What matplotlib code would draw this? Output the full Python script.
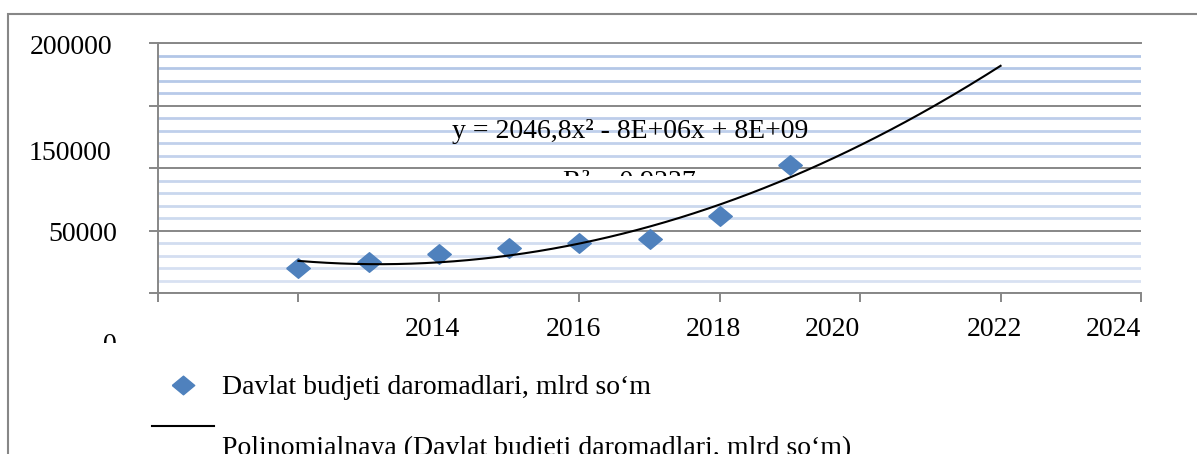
"""
Davlat budjeti daromadlari - scatter with polynomial trend line
Saves the chart as out.png
"""

import numpy as np
import matplotlib
matplotlib.use("Agg")
import matplotlib.pyplot as plt
from matplotlib.patches import Rectangle
from matplotlib.ticker import MultipleLocator
from matplotlib.transforms import ScaledTranslation, Bbox, TransformedBbox
from matplotlib.legend_handler import HandlerLine2D
from matplotlib.colors import to_rgb


# Data
YEARS = [2012, 2013, 2014, 2015, 2016, 2017, 2018, 2019]
REVENUE = [20000, 24800, 31200, 36000, 40000, 43200, 61600, 102400]
TREND_END = 2022

X_TICKS = [2010, 2012, 2014, 2016, 2018, 2020, 2022, 2024]
X_LABELS = ["", "", "2014", "2016", "2018", "2020", "2022", "2024"]
Y_TICKS = [0, 50000, 100000, 150000, 200000]
Y_LABELS = ["0", "50000", "", "150000", "200000"]

SERIES_NAME = "Davlat budjeti daromadlari, mlrd so‘m"
TREND_NAME = "Polinomialnaya (Davlat budjeti daromadlari, mlrd so‘m)"
EQUATION = "y = 2046,8x² - 8E+06x + 8E+09"
R_SQUARED = "R² = 0,9237"

W, H = 1197, 454
GRAY = "#878787"
BLUE = "#4f81bd"
DIAMOND = [(-1, 0), (0, 0.83), (1, 0), (0, -0.83), (-1, 0)]


def fx(px):
    return px / W


def fy(py):
    return 1 - py / H


def shift(label, dx_px, dy_px, fig):
    off = ScaledTranslation(dx_px / 100, -dy_px / 100, fig.dpi_scale_trans)
    label.set_transform(label.get_transform() + off)


def clip_rows(text, top_px, bottom_px, fig):
    box = Bbox.from_extents(0, fy(bottom_px), 1, fy(top_px))
    text.set_clip_box(TransformedBbox(box, fig.transFigure))
    text.set_clip_on(True)


class RaisedLine(HandlerLine2D):
    """Legend line drawn above the middle of its label, as in the original."""

    def __init__(self, raise_pt, **kw):
        super().__init__(**kw)
        self.raise_pt = raise_pt

    def create_artists(self, legend, orig_handle, xdescent, ydescent,
                       width, height, fontsize, trans):
        artists = super().create_artists(legend, orig_handle, xdescent,
                                         ydescent, width, height, fontsize,
                                         trans)
        for a in artists:
            a.set_ydata(np.asarray(a.get_ydata()) + self.raise_pt)
        return artists


def main() -> None:
    plt.rcParams["font.family"] = ["Liberation Serif", "DejaVu Serif"]
    plt.rcParams["font.size"] = 20

    fig = plt.figure(figsize=(W / 100, H / 100), dpi=100)
    ax = fig.add_axes([fx(158), fy(293), fx(1141) - fx(158), fy(43) - fy(293)])

    # Outer chart border (right and bottom run off the picture)
    fig.add_artist(Rectangle((fx(8), -0.2), 1.2, fy(14) + 0.2,
                             transform=fig.transFigure, fill=False,
                             edgecolor=GRAY, linewidth=1.5))

    # Series and polynomial trend
    pts, = ax.plot(YEARS, REVENUE, linestyle="none", marker=DIAMOND,
                   markersize=17, color=BLUE, zorder=3)
    t = np.array(YEARS) - YEARS[0]
    coeffs = np.polyfit(t, REVENUE, 2)
    tt = np.linspace(0, TREND_END - YEARS[0], 200)
    trend, = ax.plot(tt + YEARS[0], np.polyval(coeffs, tt), color="black",
                     linewidth=1.5, zorder=4)

    ax.set_xlim(X_TICKS[0], X_TICKS[-1])
    ax.set_ylim(Y_TICKS[0], Y_TICKS[-1])
    ax.set_xticks(X_TICKS, X_LABELS)
    ax.set_yticks(Y_TICKS, Y_LABELS)
    ax.yaxis.set_minor_locator(MultipleLocator(10000))

    for side in ["left", "bottom", "top"]:
        ax.spines[side].set_color(GRAY)
        ax.spines[side].set_linewidth(1.4)
    ax.spines["right"].set_visible(False)

    ax.tick_params(axis="both", which="major", direction="out", length=6.5,
                   width=1.4, color=GRAY, labelsize=20)
    ax.tick_params(axis="y", pad=25)
    ax.tick_params(axis="x", pad=11)
    ax.tick_params(axis="y", which="minor", length=0)

    ax.grid(axis="y", which="major", color=GRAY, linewidth=1.4)
    ax.grid(axis="y", which="minor", linewidth=2.0)
    ax.set_axisbelow(True)

    # Minor grid fades from light blue (top) to paler blue (bottom)
    dark = np.array(to_rgb("#b0c4e6"))
    light = np.array(to_rgb("#dae3f3"))
    locs = ax.yaxis.get_minorticklocs()
    for loc, tick in zip(locs, ax.yaxis.get_minor_ticks(len(locs))):
        k = loc / Y_TICKS[-1]
        tick.gridline.set_color(light + (dark - light) * k)

    # Tick labels sit where the original rendering put them
    for lbl in ax.get_xticklabels():
        if lbl.get_text() in ("2020", "2024"):
            lbl.set_horizontalalignment("right")
        else:
            shift(lbl, -6, 0, fig)
    for lbl in ax.get_yticklabels():
        if lbl.get_text() == "150000":
            shift(lbl, -3, 45, fig)
        elif lbl.get_text() == "0":
            shift(lbl, 3, 49, fig)
            clip_rows(lbl, 0, 343, fig)
        elif lbl.get_text() == "50000":
            shift(lbl, 3, 1, fig)
        else:
            shift(lbl, -2, 1, fig)

    # Trendline label: equation and half-hidden R-squared
    fig.text(fx(452), fy(138), EQUATION, fontsize=20, va="baseline")
    r2 = fig.text(fx(563), fy(189), R_SQUARED, fontsize=20, va="baseline")
    clip_rows(r2, 169.5, 175.5, fig)

    # Legend below the plot, second row runs off the bottom edge
    leg = fig.legend([pts, trend], [SERIES_NAME, TREND_NAME],
                     loc="upper left", bbox_to_anchor=(fx(152), fy(375)),
                     bbox_transform=fig.transFigure, frameon=False,
                     borderpad=0, borderaxespad=0, fontsize=20,
                     handlelength=2.23, handletextpad=0.29, labelspacing=1.27,
                     markerscale=0.95,
                     handler_map={trend: RaisedLine(13.7)})
    leg.set_zorder(5)

    fig.savefig("out.png", dpi=100)
    plt.close(fig)


if __name__ == "__main__":
    main()
